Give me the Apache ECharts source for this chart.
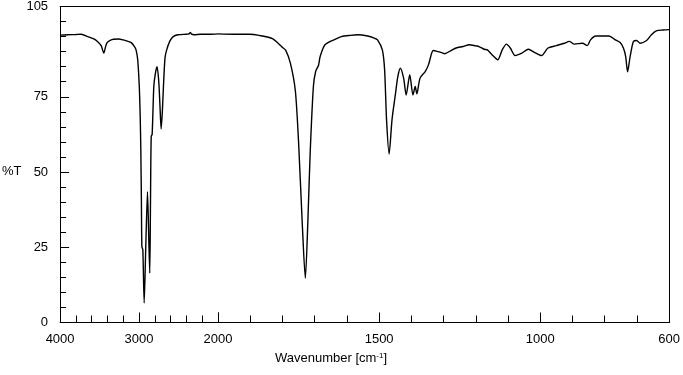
<!DOCTYPE html>
<html>
<head>
<meta charset="utf-8">
<script src="https://cdn.jsdelivr.net/npm/echarts@6/dist/echarts.min.js"></script>
<style>
  html, body { margin: 0; padding: 0; background: #fff; }
  #main { width: 683px; height: 375px; }
</style>
</head>
<body>
<div id="main"></div>
<script>
// 4000 - 2000 cm-1 (compressed part of the axis)
var hiWn = [4000, 3900, 3800, 3731, 3650, 3580, 3527, 3480, 3446, 3425, 3405, 3360, 3323, 3260, 3201, 3140, 3099, 3058, 3038, 3017, 2997, 2985, 2977, 2970, 2964, 2952, 2935, 2915, 2893, 2875, 2864, 2855, 2846, 2834, 2813, 2793, 2772, 2750, 2735, 2720, 2705, 2691, 2671, 2650, 2610, 2568, 2507, 2400, 2365, 2352, 2335, 2303, 2222, 2100, 2000];
var hiT = [95.5, 95.6, 95.7, 95.8, 95.0, 94.3, 93.4, 92.0, 89.5, 91.5, 93.0, 93.8, 94.1, 94.2, 93.9, 93.4, 93.0, 91.7, 90.6, 87.3, 78.4, 68.0, 56.4, 40.0, 25.2, 24.2, 6.5, 25.0, 43.5, 26.0, 16.4, 40.0, 61.8, 62.5, 78.4, 82.8, 85.0, 80.0, 72.0, 64.3, 70.0, 78.4, 88.0, 90.6, 93.5, 95.0, 95.6, 95.8, 95.9, 96.4, 95.8, 95.6, 95.8, 95.8, 95.9];

// 2000 - 600 cm-1 (expanded part of the axis)
var loWn = [2000, 1950, 1902, 1872, 1831, 1801, 1790, 1775, 1760, 1750, 1739, 1729, 1721, 1714, 1704, 1697, 1688, 1683, 1668, 1637, 1617, 1590, 1566, 1536, 1515, 1505, 1490, 1483, 1477, 1469, 1460, 1449, 1442, 1434, 1424, 1416, 1405, 1395, 1388, 1383, 1373, 1357, 1347, 1337, 1332, 1317, 1302, 1297, 1276, 1261, 1240, 1220, 1200, 1190, 1174, 1164, 1149, 1132, 1118, 1105, 1093, 1078, 1057, 1037, 1017, 996, 976, 950, 925, 910, 894, 869, 854, 844, 828, 808, 787, 767, 752, 742, 735, 729, 721, 711, 701, 690, 670, 655, 640, 619, 600];
var loT = [95.9, 95.8, 95.8, 95.4, 94.3, 91.5, 90.5, 86.0, 77.0, 60.0, 34.0, 14.7, 34.0, 56.3, 78.4, 83.4, 85.5, 88.4, 92.3, 94.1, 95.0, 95.4, 95.6, 95.2, 94.5, 93.9, 90.6, 84.0, 67.4, 56.0, 67.4, 76.2, 81.7, 84.5, 81.2, 75.6, 82.3, 75.6, 78.4, 76.0, 81.2, 83.4, 85.6, 89.5, 90.4, 90.0, 89.5, 89.3, 90.4, 91.2, 91.7, 92.3, 91.9, 91.7, 90.8, 90.6, 88.9, 87.3, 90.6, 92.5, 91.2, 88.7, 89.5, 90.8, 89.7, 88.7, 91.2, 92.0, 92.8, 93.4, 92.5, 92.8, 92.0, 93.9, 95.2, 95.2, 95.2, 93.9, 93.0, 91.2, 88.4, 83.3, 88.4, 93.4, 93.7, 92.8, 93.7, 95.6, 96.9, 97.2, 97.3];

var xMajorHi = [4000, 3000, 2000];
var xMinorHi = [3800, 3600, 3400, 3200, 2800, 2600, 2400, 2200];
var xMajorLo = [2000, 1500, 1000, 600];
var xLabelsLo = [1500, 1000, 600];
var xMinorLo = [1900, 1800, 1700, 1600, 1400, 1300, 1200, 1100, 900, 800, 700];
var yMajor = [0, 25, 50, 75, 105];
var yMinor = [5, 10, 15, 20, 30, 35, 40, 45, 55, 60, 65, 70, 80, 85, 90, 95, 100];

var font = '"Liberation Sans", Arial, sans-serif';
var ink = '#000';

function pairs(xs, ys) {
  var out = [];
  for (var i = 0; i < xs.length; i++) out.push([xs[i], ys[i]]);
  return out;
}

function plain(v) {
  return String(v);
}

function tickAxis(grid, min, max, ticks, len, labels) {
  return {
    type: 'value', gridIndex: grid, position: 'bottom', inverse: true, min: min, max: max,
    axisLine: { show: labels !== null, lineStyle: { color: ink, width: 1 } },
    axisTick: { show: true, inside: true, length: len, customValues: ticks, lineStyle: { color: ink, width: 1 } },
    axisLabel: labels ? { show: true, customValues: labels, formatter: plain, margin: 10, color: ink, fontSize: 13, fontFamily: font } : { show: false },
    splitLine: { show: false }
  };
}

function borderAxis(grid, min, max) {
  return {
    type: 'value', gridIndex: grid, position: 'top', inverse: true, min: min, max: max,
    axisLine: { show: true, lineStyle: { color: ink, width: 1 } },
    axisTick: { show: false }, axisLabel: { show: false }, splitLine: { show: false }
  };
}

var myChart = echarts.init(document.getElementById('main'));

var option = {
  backgroundColor: '#fff',
  animation: false,
  grid: [
    { left: 54.5, top: 6.5, width: 163.5, height: 316 },
    { left: 218, top: 6.5, width: 458, height: 316 }
  ],
  xAxis: [
    tickAxis(0, 2000, 4000, xMajorHi, 10, xMajorHi),
    tickAxis(0, 2000, 4000, xMinorHi, 7, null),
    tickAxis(1, 600, 2000, xMajorLo, 10, xLabelsLo),
    tickAxis(1, 600, 2000, xMinorLo, 7, null),
    borderAxis(0, 2000, 4000),
    borderAxis(1, 600, 2000)
  ],
  yAxis: [
    {
      type: 'value', gridIndex: 0, position: 'left', min: 0, max: 105,
      name: '%T', nameLocation: 'middle', nameRotate: 0, nameGap: 32,
      nameTextStyle: { color: ink, fontSize: 13, fontFamily: font, verticalAlign: 'top', lineHeight: 14 },
      axisLine: { show: true, lineStyle: { color: ink, width: 1 } },
      axisTick: { show: true, inside: true, length: 9, customValues: yMajor, lineStyle: { color: ink } },
      axisLabel: { customValues: yMajor, formatter: plain, margin: 12, color: ink, fontSize: 13, fontFamily: font },
      splitLine: { show: false }
    },
    {
      type: 'value', gridIndex: 0, position: 'left', offset: 0, min: 0, max: 105,
      axisLine: { show: false },
      axisTick: { show: true, inside: true, length: 6, customValues: yMinor, lineStyle: { color: ink } },
      axisLabel: { show: false },
      splitLine: { show: false }
    },
    {
      type: 'value', gridIndex: 1, position: 'right', min: 0, max: 105,
      axisLine: { show: true, lineStyle: { color: ink, width: 1 } },
      axisTick: { show: false }, axisLabel: { show: false }, splitLine: { show: false }
    }
  ],
  graphic: [{
    type: 'text', x: 331, y: 358,
    style: {
      text: '{a|Wavenumber [cm}{s|-1}{a|]}',
      align: 'center', verticalAlign: 'middle',
      rich: {
        a: { fontSize: 13, fontFamily: font, fill: ink, color: ink },
        s: { fontSize: 8, fontFamily: font, fill: ink, color: ink, verticalAlign: 'top', padding: [0, 0, 5, 0] }
      }
    }
  }],
  series: [
    {
      type: 'line', xAxisIndex: 0, yAxisIndex: 0, data: pairs(hiWn, hiT),
      showSymbol: false, smooth: 0.25, lineStyle: { color: ink, width: 1.4 }, clip: true
    },
    {
      type: 'line', xAxisIndex: 2, yAxisIndex: 2, data: pairs(loWn, loT),
      showSymbol: false, smooth: 0.25, lineStyle: { color: ink, width: 1.4 }, clip: true
    }
  ]
};

myChart.setOption(option);
</script>
</body>
</html>
